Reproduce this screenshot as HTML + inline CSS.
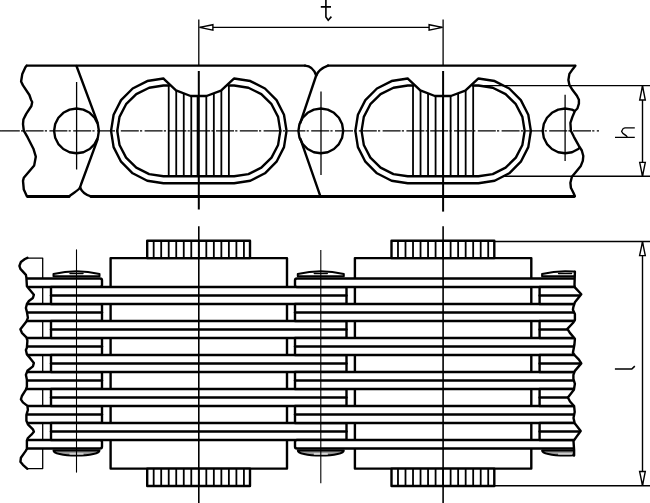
<!DOCTYPE html>
<html><head><meta charset="utf-8"><title>chain</title>
<style>html,body{margin:0;padding:0;background:#fff;width:650px;height:503px;overflow:hidden}svg{display:block}</style>
</head><body>
<svg width="650" height="503" viewBox="0 0 650 503">
<style>
.k{fill:none;stroke:#000;stroke-width:2.4;stroke-linejoin:round;stroke-linecap:round}
.kw{fill:#fff;stroke:#000;stroke-width:2.4;stroke-linejoin:round}
.h{stroke:#000;stroke-width:1.8;fill:none}
.t{stroke:#000;stroke-width:1.4;fill:none}
.c{stroke:#000;stroke-width:1.3;fill:none}
.cd{stroke:#000;stroke-width:1.3;fill:none;stroke-dasharray:18 1.2 2.2 2.4;stroke-dashoffset:22}
.ar{fill:#fff;stroke:#000;stroke-width:1.4;stroke-linejoin:miter}
</style>
<rect width="650" height="503" fill="#fff"/>
<defs><clipPath id="ct"><polygon points="26.6,62 26.6,65.6 25.4,67.2 22.3,73.9 21.1,81.5 23,85.4 29.4,95 31,99.7 32.2,102 31.4,106 26.2,113.9 23.4,119.5 23,124.2 23.8,130.6 27.8,137.7 33.4,148.7 35.8,156.7 34.2,165.4 23.8,177.7 23,180.9 23.8,189.6 27,196.4 27,200 574.9,200 574.9,196.3 573.4,192.7 570.9,187.8 570.4,182.8 571.9,176.8 575.9,171.9 580.8,165.9 582.8,160.9 583.3,156 581.8,150.5 578.9,145.8 573.9,136.8 570.9,130.8 570.4,122.9 572.4,116.9 574.9,111 577.4,108.5 578.9,103.7 578.9,99.8 576.9,95.8 572.4,89.8 569.4,84.9 568.4,79.9 569.4,73.9 572.9,68.9 575.4,65.8 575.4,62"/></clipPath><clipPath id="cb"><polygon points="27.4,230 27.4,257.8 24.9,259 20.9,262 19.4,265.9 20.4,268.9 25.9,274.9 26.4,277.8 26.9,286.3 28.9,288.8 33.9,294.7 32.9,298 28.9,301 26.9,304 25.9,308 26.9,311.9 27.9,317.9 26.4,321.4 20.4,329.3 21.9,332.8 26.4,337.3 27.4,340.7 26.9,347.7 25.9,350 26.9,354.4 29.9,357.9 33.9,362.9 32.9,366.4 27.4,370.8 25.9,374.8 26.9,379.8 26.9,386.7 25.9,389.7 21.9,396 20.9,399.4 22.9,402.4 27.4,405.9 27.9,409.9 26.4,414.9 26.4,420.8 27.9,424.3 32.9,429.3 33.9,431.8 31.4,434.7 27.9,438 26.9,440.4 26.9,448.9 25.4,451.4 20.9,457.8 20.4,461.8 22.9,464.8 27.4,468.8 27.4,503 574.1,503 574.1,455.5 574.1,450 573.5,441.2 575.9,437.6 580.7,431 574.7,423.3 573.5,417.9 574.7,411.9 574.1,406 570,401.5 567.9,397.5 573.9,389.8 574.9,383.8 573.4,378.9 573.4,374.9 574.9,370.9 581.3,363.4 578.9,359.7 574.9,355.5 572.9,352.7 574.4,344.8 574.9,338.8 569.9,332.9 567.4,328.9 572.9,323 574.9,320 574.9,314 572.9,309.7 573.4,306.8 574.9,302.3 581.3,294.3 574.9,287.4 574.5,285 574.9,271.6 574.9,230"/></clipPath></defs>
<g clip-path="url(#ct)"><polygon points="76.5,108.5 83.42,109.6 89.67,112.78 94.62,117.73 97.8,123.98 98.9,130.9 97.8,137.82 94.62,144.07 89.67,149.02 83.42,152.2 76.5,153.3 69.58,152.2 63.33,149.02 58.38,144.07 55.2,137.82 54.1,130.9 55.2,123.98 58.38,117.73 63.33,112.78 69.58,109.6" class="k"/>
<polygon points="320.8,108.5 327.72,109.6 333.97,112.78 338.92,117.73 342.1,123.98 343.2,130.9 342.1,137.82 338.92,144.07 333.97,149.02 327.72,152.2 320.8,153.3 313.88,152.2 307.63,149.02 302.68,144.07 299.5,137.82 298.4,130.9 299.5,123.98 302.68,117.73 307.63,112.78 313.88,109.6" class="k"/>
<polygon points="565.1,108.5 572.02,109.6 578.27,112.78 583.22,117.73 586.4,123.98 587.5,130.9 586.4,137.82 583.22,144.07 578.27,149.02 572.02,152.2 565.1,153.3 558.18,152.2 551.93,149.02 546.98,144.07 543.8,137.82 542.7,130.9 543.8,123.98 546.98,117.73 551.93,112.78 558.18,109.6" class="k"/>
<polygon points="163.5,78.6 176,90.3 190.6,96 206.5,96 221,90.6 233.9,78.6 234.15,78.5 250.34,81.06 264.95,88.51 276.54,100.1 283.99,114.71 286.55,130.9 283.99,147.09 276.54,161.7 264.95,173.29 250.34,180.74 234.15,183.3 163.45,183.3 147.26,180.74 132.65,173.29 121.06,161.7 113.61,147.09 111.05,130.9 113.61,114.71 121.06,100.1 132.65,88.51 147.26,81.06 163.45,78.5" class="k"/>
<polyline points="169,85.5 163.45,85.5 149.17,87.72 136.29,94.17 126.07,104.21 119.51,116.87 117.25,130.9 119.51,144.93 126.07,157.59 136.29,167.63 149.17,174.08 163.45,176.3 234.15,176.3 248.43,174.08 261.31,167.63 271.53,157.59 278.09,144.93 280.35,130.9 278.09,116.87 271.53,104.21 261.31,94.17 248.43,87.72 234.15,85.5 228.6,85.5" class="k"/>
<line x1="168.72" y1="85.5" x2="168.72" y2="176.3" class="h"/>
<line x1="176.24" y1="90.39" x2="176.24" y2="176.3" class="h"/>
<line x1="183.76" y1="93.33" x2="183.76" y2="176.3" class="h"/>
<line x1="191.28" y1="96" x2="191.28" y2="176.3" class="h"/>
<line x1="197.6" y1="96" x2="197.6" y2="176.3" class="h"/>
<line x1="206.32" y1="96" x2="206.32" y2="176.3" class="h"/>
<line x1="213.84" y1="93.27" x2="213.84" y2="176.3" class="h"/>
<line x1="221.36" y1="90.27" x2="221.36" y2="176.3" class="h"/>
<line x1="228.88" y1="85.5" x2="228.88" y2="176.3" class="h"/>
<polygon points="407.8,78.6 420.3,90.3 434.9,96 450.8,96 465.3,90.6 478.2,78.6 478.45,78.5 494.64,81.06 509.25,88.51 520.84,100.1 528.29,114.71 530.85,130.9 528.29,147.09 520.84,161.7 509.25,173.29 494.64,180.74 478.45,183.3 407.75,183.3 391.56,180.74 376.95,173.29 365.36,161.7 357.91,147.09 355.35,130.9 357.91,114.71 365.36,100.1 376.95,88.51 391.56,81.06 407.75,78.5" class="k"/>
<polyline points="413.3,85.5 407.75,85.5 393.47,87.72 380.59,94.17 370.37,104.21 363.81,116.87 361.55,130.9 363.81,144.93 370.37,157.59 380.59,167.63 393.47,174.08 407.75,176.3 478.45,176.3 492.73,174.08 505.61,167.63 515.83,157.59 522.39,144.93 524.65,130.9 522.39,116.87 515.83,104.21 505.61,94.17 492.73,87.72 478.45,85.5 472.9,85.5" class="k"/>
<line x1="413.02" y1="85.5" x2="413.02" y2="176.3" class="h"/>
<line x1="420.54" y1="90.39" x2="420.54" y2="176.3" class="h"/>
<line x1="428.06" y1="93.33" x2="428.06" y2="176.3" class="h"/>
<line x1="435.58" y1="96" x2="435.58" y2="176.3" class="h"/>
<line x1="443.1" y1="96" x2="443.1" y2="176.3" class="h"/>
<line x1="450.62" y1="96" x2="450.62" y2="176.3" class="h"/>
<line x1="458.14" y1="93.27" x2="458.14" y2="176.3" class="h"/>
<line x1="465.66" y1="90.27" x2="465.66" y2="176.3" class="h"/>
<line x1="473.18" y1="85.5" x2="473.18" y2="176.3" class="h"/>
<polyline points="76.5,66 97.6,122.6" class="k"/>
<polyline points="97.6,139.4 81,184.5 80,187.6" class="k"/>
<path d="M80,187.6 C79,190 73,193 69,196.4" class="k"/>
<path d="M80,187.6 C81.5,191 85,195 91,196.4" class="k"/>
<path d="M305,65.6 C310,65.8 314,69 316.2,75.5" class="k"/>
<path d="M316.2,75.5 C318,71 323,67.5 328,65.6" class="k"/>
<polyline points="316.2,75.5 300.2,123.2" class="k"/>
<polyline points="300.4,138.8 320.4,196.4" class="k"/>
<polyline points="26.6,65.6 305,65.6" class="k"/>
<polyline points="328,65.6 575.4,65.6" class="k"/>
<polyline points="27,196.4 69,196.4" class="k" style="stroke-width:3"/>
<polyline points="91,196.4 574.9,196.4" class="k" style="stroke-width:3"/></g>
<polyline points="26.6,65.6 25.4,67.2 22.3,73.9 21.1,81.5 23,85.4 29.4,95 31,99.7 32.2,102 31.4,106 26.2,113.9 23.4,119.5 23,124.2 23.8,130.6 27.8,137.7 33.4,148.7 35.8,156.7 34.2,165.4 23.8,177.7 23,180.9 23.8,189.6 27,196.4" class="k"/>
<polyline points="575.4,65.8 572.9,68.9 569.4,73.9 568.4,79.9 569.4,84.9 572.4,89.8 576.9,95.8 578.9,99.8 578.9,103.7 577.4,108.5 574.9,111 572.4,116.9 570.4,122.9 570.9,130.8 573.9,136.8 578.9,145.8 581.8,150.5 583.3,156 582.8,160.9 580.8,165.9 575.9,171.9 571.9,176.8 570.4,182.8 570.9,187.8 573.4,192.7 574.9,196.3" class="k"/>
<line x1="0" y1="130.9" x2="599" y2="130.9" class="cd"/>
<line x1="0" y1="130.9" x2="1.9" y2="130.9" class="c"/>
<line x1="76.6" y1="82" x2="76.6" y2="169.5" class="c"/>
<line x1="321" y1="91.5" x2="321" y2="175" class="c"/>
<line x1="565.1" y1="94.8" x2="565.1" y2="160.9" class="c"/>
<line x1="198.8" y1="19.5" x2="198.8" y2="66" class="c"/>
<line x1="198.8" y1="71" x2="198.8" y2="209.5" class="c" style="stroke-width:2"/>
<line x1="443.1" y1="19.5" x2="443.1" y2="66" class="c"/>
<line x1="443.1" y1="71" x2="443.1" y2="211.6" class="c" style="stroke-width:2"/>
<line x1="199.5" y1="27.4" x2="442.5" y2="27.4" class="t"/>
<path d="M199.6,27.4 L212.9,24.7 L212.9,30.1 Z" class="ar"/>
<path d="M442.4,27.4 L429.1,24.7 L429.1,30.1 Z" class="ar"/>
<path d="M320.8,6.9 L331,6.9 M325.9,0 L325.9,17 L328.2,20.2 L331.4,16.6" class="t" style="stroke-width:1.6"/>
<line x1="473.3" y1="85.6" x2="650" y2="85.6" class="t"/>
<line x1="504" y1="176.3" x2="650" y2="176.3" class="t"/>
<line x1="642.5" y1="85.6" x2="642.5" y2="176.3" class="t"/>
<path d="M642.5,85.8 L639.7,100 L645.3,100 Z" class="ar"/>
<path d="M642.5,176.1 L639.7,162.4 L645.3,162.4 Z" class="ar"/>
<path d="M615,137.4 L634.8,137.4 M634.8,127.9 L625,127.9 L623.2,128.5 L621.6,131.3 L622.9,133.4 L626.4,135.9 L627.6,137.3" class="t" style="stroke-width:1.3;stroke-linejoin:round"/>
<g clip-path="url(#cb)"><rect x="-133.7" y="258.1" width="176.4" height="210.5" class="kw" style="stroke-width:1.3"/>
<rect x="-97.1" y="240.7" width="102.8" height="17.4" class="kw"/>
<line x1="-90.62" y1="240.7" x2="-90.62" y2="258.1" class="h"/>
<line x1="-83.1" y1="240.7" x2="-83.1" y2="258.1" class="h"/>
<line x1="-75.58" y1="240.7" x2="-75.58" y2="258.1" class="h"/>
<line x1="-68.06" y1="240.7" x2="-68.06" y2="258.1" class="h"/>
<line x1="-60.54" y1="240.7" x2="-60.54" y2="258.1" class="h"/>
<line x1="-53.02" y1="240.7" x2="-53.02" y2="258.1" class="h"/>
<line x1="-45.5" y1="240.7" x2="-45.5" y2="258.1" class="h"/>
<line x1="-37.98" y1="240.7" x2="-37.98" y2="258.1" class="h"/>
<line x1="-30.46" y1="240.7" x2="-30.46" y2="258.1" class="h"/>
<line x1="-22.94" y1="240.7" x2="-22.94" y2="258.1" class="h"/>
<line x1="-15.42" y1="240.7" x2="-15.42" y2="258.1" class="h"/>
<line x1="-7.9" y1="240.7" x2="-7.9" y2="258.1" class="h"/>
<line x1="-0.38" y1="240.7" x2="-0.38" y2="258.1" class="h"/>
<rect x="-97.1" y="468.6" width="102.8" height="17.4" class="kw"/>
<line x1="-90.62" y1="468.6" x2="-90.62" y2="486" class="h"/>
<line x1="-83.1" y1="468.6" x2="-83.1" y2="486" class="h"/>
<line x1="-75.58" y1="468.6" x2="-75.58" y2="486" class="h"/>
<line x1="-68.06" y1="468.6" x2="-68.06" y2="486" class="h"/>
<line x1="-60.54" y1="468.6" x2="-60.54" y2="486" class="h"/>
<line x1="-53.02" y1="468.6" x2="-53.02" y2="486" class="h"/>
<line x1="-45.5" y1="468.6" x2="-45.5" y2="486" class="h"/>
<line x1="-37.98" y1="468.6" x2="-37.98" y2="486" class="h"/>
<line x1="-30.46" y1="468.6" x2="-30.46" y2="486" class="h"/>
<line x1="-22.94" y1="468.6" x2="-22.94" y2="486" class="h"/>
<line x1="-15.42" y1="468.6" x2="-15.42" y2="486" class="h"/>
<line x1="-7.9" y1="468.6" x2="-7.9" y2="486" class="h"/>
<line x1="-0.38" y1="468.6" x2="-0.38" y2="486" class="h"/>
<rect x="110.6" y="258.1" width="176.4" height="210.5" class="kw"/>
<rect x="147.2" y="240.7" width="102.8" height="17.4" class="kw"/>
<line x1="153.68" y1="240.7" x2="153.68" y2="258.1" class="h"/>
<line x1="161.2" y1="240.7" x2="161.2" y2="258.1" class="h"/>
<line x1="168.72" y1="240.7" x2="168.72" y2="258.1" class="h"/>
<line x1="176.24" y1="240.7" x2="176.24" y2="258.1" class="h"/>
<line x1="183.76" y1="240.7" x2="183.76" y2="258.1" class="h"/>
<line x1="191.28" y1="240.7" x2="191.28" y2="258.1" class="h"/>
<line x1="198.8" y1="240.7" x2="198.8" y2="258.1" class="h"/>
<line x1="206.32" y1="240.7" x2="206.32" y2="258.1" class="h"/>
<line x1="213.84" y1="240.7" x2="213.84" y2="258.1" class="h"/>
<line x1="221.36" y1="240.7" x2="221.36" y2="258.1" class="h"/>
<line x1="228.88" y1="240.7" x2="228.88" y2="258.1" class="h"/>
<line x1="236.4" y1="240.7" x2="236.4" y2="258.1" class="h"/>
<line x1="243.92" y1="240.7" x2="243.92" y2="258.1" class="h"/>
<rect x="147.2" y="468.6" width="102.8" height="17.4" class="kw"/>
<line x1="153.68" y1="468.6" x2="153.68" y2="486" class="h"/>
<line x1="161.2" y1="468.6" x2="161.2" y2="486" class="h"/>
<line x1="168.72" y1="468.6" x2="168.72" y2="486" class="h"/>
<line x1="176.24" y1="468.6" x2="176.24" y2="486" class="h"/>
<line x1="183.76" y1="468.6" x2="183.76" y2="486" class="h"/>
<line x1="191.28" y1="468.6" x2="191.28" y2="486" class="h"/>
<line x1="198.8" y1="468.6" x2="198.8" y2="486" class="h"/>
<line x1="206.32" y1="468.6" x2="206.32" y2="486" class="h"/>
<line x1="213.84" y1="468.6" x2="213.84" y2="486" class="h"/>
<line x1="221.36" y1="468.6" x2="221.36" y2="486" class="h"/>
<line x1="228.88" y1="468.6" x2="228.88" y2="486" class="h"/>
<line x1="236.4" y1="468.6" x2="236.4" y2="486" class="h"/>
<line x1="243.92" y1="468.6" x2="243.92" y2="486" class="h"/>
<rect x="354.9" y="258.1" width="176.4" height="210.5" class="kw"/>
<rect x="391.5" y="240.7" width="102.8" height="17.4" class="kw"/>
<line x1="397.98" y1="240.7" x2="397.98" y2="258.1" class="h"/>
<line x1="405.5" y1="240.7" x2="405.5" y2="258.1" class="h"/>
<line x1="413.02" y1="240.7" x2="413.02" y2="258.1" class="h"/>
<line x1="420.54" y1="240.7" x2="420.54" y2="258.1" class="h"/>
<line x1="428.06" y1="240.7" x2="428.06" y2="258.1" class="h"/>
<line x1="435.58" y1="240.7" x2="435.58" y2="258.1" class="h"/>
<line x1="443.1" y1="240.7" x2="443.1" y2="258.1" class="h"/>
<line x1="450.62" y1="240.7" x2="450.62" y2="258.1" class="h"/>
<line x1="458.14" y1="240.7" x2="458.14" y2="258.1" class="h"/>
<line x1="465.66" y1="240.7" x2="465.66" y2="258.1" class="h"/>
<line x1="473.18" y1="240.7" x2="473.18" y2="258.1" class="h"/>
<line x1="480.7" y1="240.7" x2="480.7" y2="258.1" class="h"/>
<line x1="488.22" y1="240.7" x2="488.22" y2="258.1" class="h"/>
<rect x="391.5" y="468.6" width="102.8" height="17.4" class="kw"/>
<line x1="397.98" y1="468.6" x2="397.98" y2="486" class="h"/>
<line x1="405.5" y1="468.6" x2="405.5" y2="486" class="h"/>
<line x1="413.02" y1="468.6" x2="413.02" y2="486" class="h"/>
<line x1="420.54" y1="468.6" x2="420.54" y2="486" class="h"/>
<line x1="428.06" y1="468.6" x2="428.06" y2="486" class="h"/>
<line x1="435.58" y1="468.6" x2="435.58" y2="486" class="h"/>
<line x1="443.1" y1="468.6" x2="443.1" y2="486" class="h"/>
<line x1="450.62" y1="468.6" x2="450.62" y2="486" class="h"/>
<line x1="458.14" y1="468.6" x2="458.14" y2="486" class="h"/>
<line x1="465.66" y1="468.6" x2="465.66" y2="486" class="h"/>
<line x1="473.18" y1="468.6" x2="473.18" y2="486" class="h"/>
<line x1="480.7" y1="468.6" x2="480.7" y2="486" class="h"/>
<line x1="488.22" y1="468.6" x2="488.22" y2="486" class="h"/>
<path d="M53.5,276.3 L53.5,274 Q76.5,268.6 99.5,274 L99.5,276.3 Z" class="kw" style="stroke-width:2"/>
<line x1="70" y1="273.5" x2="83" y2="273.5" class="k" style="stroke-width:1.4"/>
<path d="M53.5,450.4 L99.5,450.4 C99.5,453.2 90.5,455.6 76.5,455.6 C62.5,455.6 53.5,453.2 53.5,450.4 Z" class="kw" style="stroke-width:2;fill:#999"/>
<line x1="69.5" y1="454" x2="83.5" y2="454" style="stroke:#fff;stroke-width:1.2"/>
<path d="M297.8,276.3 L297.8,274 Q320.8,268.6 343.8,274 L343.8,276.3 Z" class="kw" style="stroke-width:2"/>
<line x1="314.3" y1="273.5" x2="327.3" y2="273.5" class="k" style="stroke-width:1.4"/>
<path d="M297.8,450.4 L343.8,450.4 C343.8,453.2 334.8,455.6 320.8,455.6 C306.8,455.6 297.8,453.2 297.8,450.4 Z" class="kw" style="stroke-width:2;fill:#999"/>
<line x1="313.8" y1="454" x2="327.8" y2="454" style="stroke:#fff;stroke-width:1.2"/>
<path d="M542.1,276.3 L542.1,274 Q565.1,268.6 588.1,274 L588.1,276.3 Z" class="kw" style="stroke-width:2"/>
<line x1="558.6" y1="273.5" x2="571.6" y2="273.5" class="k" style="stroke-width:1.4"/>
<path d="M542.1,450.4 L588.1,450.4 C588.1,453.2 579.1,455.6 565.1,455.6 C551.1,455.6 542.1,453.2 542.1,450.4 Z" class="kw" style="stroke-width:2;fill:#999"/>
<line x1="558.1" y1="454" x2="572.1" y2="454" style="stroke:#fff;stroke-width:1.2"/>
<path d="M-190.8,276.3 L-190.8,274 Q-167.8,268.6 -144.8,274 L-144.8,276.3 Z" class="kw" style="stroke-width:2"/>
<line x1="-174.3" y1="273.5" x2="-161.3" y2="273.5" class="k" style="stroke-width:1.4"/>
<path d="M-190.8,450.4 L-144.8,450.4 C-144.8,453.2 -153.8,455.6 -167.8,455.6 C-181.8,455.6 -190.8,453.2 -190.8,450.4 Z" class="kw" style="stroke-width:2;fill:#999"/>
<line x1="-174.8" y1="454" x2="-160.8" y2="454" style="stroke:#fff;stroke-width:1.2"/>
<rect x="-193.3" y="278.5" width="295.3" height="8.5" rx="2" class="kw"/>
<rect x="-193.3" y="440" width="295.3" height="8.5" rx="2" class="kw"/>
<rect x="-193.3" y="304" width="295.3" height="17" class="kw"/>
<line x1="-193.3" y1="312.5" x2="102" y2="312.5" class="k"/>
<rect x="-193.3" y="338" width="295.3" height="17" class="kw"/>
<line x1="-193.3" y1="346.5" x2="102" y2="346.5" class="k"/>
<rect x="-193.3" y="372" width="295.3" height="17" class="kw"/>
<line x1="-193.3" y1="380.5" x2="102" y2="380.5" class="k"/>
<rect x="-193.3" y="406" width="295.3" height="17" class="kw"/>
<line x1="-193.3" y1="414.5" x2="102" y2="414.5" class="k"/>
<rect x="51" y="287" width="295.5" height="17" class="kw"/>
<line x1="51" y1="295.5" x2="346.5" y2="295.5" class="k"/>
<rect x="51" y="321" width="295.5" height="17" class="kw"/>
<line x1="51" y1="329.5" x2="346.5" y2="329.5" class="k"/>
<rect x="51" y="355" width="295.5" height="17" class="kw"/>
<line x1="51" y1="363.5" x2="346.5" y2="363.5" class="k"/>
<rect x="51" y="389" width="295.5" height="17" class="kw"/>
<line x1="51" y1="397.5" x2="346.5" y2="397.5" class="k"/>
<rect x="51" y="423" width="295.5" height="17" class="kw"/>
<line x1="51" y1="431.5" x2="346.5" y2="431.5" class="k"/>
<rect x="295" y="278.5" width="295.8" height="8.5" rx="2" class="kw"/>
<rect x="295" y="440" width="295.8" height="8.5" rx="2" class="kw"/>
<rect x="295" y="304" width="295.8" height="17" class="kw"/>
<line x1="295" y1="312.5" x2="590.8" y2="312.5" class="k"/>
<rect x="295" y="338" width="295.8" height="17" class="kw"/>
<line x1="295" y1="346.5" x2="590.8" y2="346.5" class="k"/>
<rect x="295" y="372" width="295.8" height="17" class="kw"/>
<line x1="295" y1="380.5" x2="590.8" y2="380.5" class="k"/>
<rect x="295" y="406" width="295.8" height="17" class="kw"/>
<line x1="295" y1="414.5" x2="590.8" y2="414.5" class="k"/>
<rect x="539.6" y="287" width="295.5" height="17" class="kw"/>
<line x1="539.6" y1="295.5" x2="835.1" y2="295.5" class="k"/>
<rect x="539.6" y="321" width="295.5" height="17" class="kw"/>
<line x1="539.6" y1="329.5" x2="835.1" y2="329.5" class="k"/>
<rect x="539.6" y="355" width="295.5" height="17" class="kw"/>
<line x1="539.6" y1="363.5" x2="835.1" y2="363.5" class="k"/>
<rect x="539.6" y="389" width="295.5" height="17" class="kw"/>
<line x1="539.6" y1="397.5" x2="835.1" y2="397.5" class="k"/>
<rect x="539.6" y="423" width="295.5" height="17" class="kw"/>
<line x1="539.6" y1="431.5" x2="835.1" y2="431.5" class="k"/></g>
<polyline points="27.4,257.8 24.9,259 20.9,262 19.4,265.9 20.4,268.9 25.9,274.9 26.4,277.8 26.9,286.3 28.9,288.8 33.9,294.7 32.9,298 28.9,301 26.9,304 25.9,308 26.9,311.9 27.9,317.9 26.4,321.4 20.4,329.3 21.9,332.8 26.4,337.3 27.4,340.7 26.9,347.7 25.9,350 26.9,354.4 29.9,357.9 33.9,362.9 32.9,366.4 27.4,370.8 25.9,374.8 26.9,379.8 26.9,386.7 25.9,389.7 21.9,396 20.9,399.4 22.9,402.4 27.4,405.9 27.9,409.9 26.4,414.9 26.4,420.8 27.9,424.3 32.9,429.3 33.9,431.8 31.4,434.7 27.9,438 26.9,440.4 26.9,448.9 25.4,451.4 20.9,457.8 20.4,461.8 22.9,464.8 27.4,468.8" class="k"/>
<polyline points="574.9,271.6 574.5,285 574.9,287.4 581.3,294.3 574.9,302.3 573.4,306.8 572.9,309.7 574.9,314 574.9,320 572.9,323 567.4,328.9 569.9,332.9 574.9,338.8 574.4,344.8 572.9,352.7 574.9,355.5 578.9,359.7 581.3,363.4 574.9,370.9 573.4,374.9 573.4,378.9 574.9,383.8 573.9,389.8 567.9,397.5 570,401.5 574.1,406 574.7,411.9 573.5,417.9 574.7,423.3 580.7,431 575.9,437.6 573.5,441.2 574.1,450 574.1,455.5" class="k"/>
<line x1="198.8" y1="226.2" x2="198.8" y2="503" class="c" style="stroke-width:1.6"/>
<line x1="443.1" y1="226.2" x2="443.1" y2="503" class="c" style="stroke-width:1.6"/>
<line x1="76.5" y1="249.4" x2="76.5" y2="472.6" class="c" style="stroke-width:1.1"/>
<line x1="320.8" y1="250" x2="320.8" y2="483.2" class="c" style="stroke-width:1.1"/>
<line x1="494" y1="241.5" x2="650" y2="241.5" class="t"/>
<line x1="494" y1="485.8" x2="650" y2="485.8" class="t"/>
<line x1="642.5" y1="241.5" x2="642.5" y2="485.8" class="t"/>
<path d="M642.5,241.8 L639.6,255.6 L645.3,255.6 Z" class="ar"/>
<path d="M642.5,485.4 L639.6,471.5 L645.3,471.5 Z" class="ar"/>
<path d="M614.9,369 L631.8,369 L634.8,366.2" class="t" style="stroke-width:1.6"/>
</svg>
</body></html>
